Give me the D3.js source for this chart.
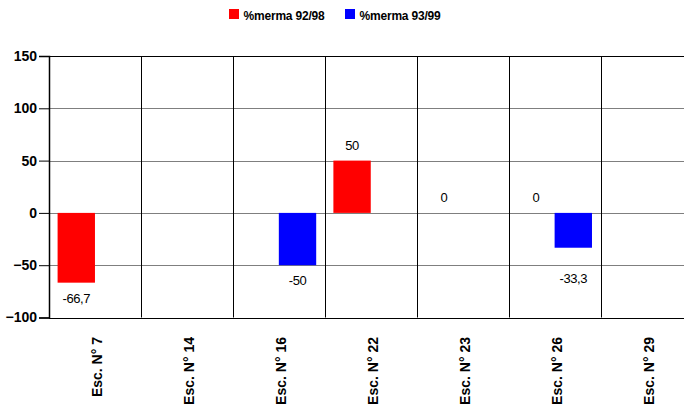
<!DOCTYPE html>
<html>
<head>
<meta charset="utf-8">
<script src="https://cdn.jsdelivr.net/npm/d3@7"></script>
<style>
  html, body { margin: 0; padding: 0; background: #fff; }
  svg { display: block; font-family: Arial, "Liberation Sans", sans-serif; }
</style>
</head>
<body>
<script>
// ---- data ----
const categories = ["Esc. N° 7", "Esc. N° 14", "Esc. N° 16", "Esc. N° 22", "Esc. N° 23", "Esc. N° 26", "Esc. N° 29"];
const seriesNames = ["%merma 92/98", "%merma 93/99"];
const merma9298 = [-66.7, null, null, 50, 0, 0, null];
const merma9399 = [null, null, -50, null, null, -33.3, null];
const yTicks = [-100, -50, 0, 50, 100, 150];

// ---- layout / style ----
const W = 684, H = 416;
const colors = ["#ff0000", "#0000ff"];
const plotLeft = 49, catStep = 91.93, plotTop = 56, plotBottom = 317.5;
// manual nudges for data labels (Excel-style placement), keyed "series-category"
const labelNudge = { "1-5": 15 };

const svg = d3.select("body").append("svg").attr("width", W).attr("height", H);

const x = d3.scaleBand().domain(categories)
  .range([plotLeft, plotLeft + catStep * categories.length]).paddingInner(0).paddingOuter(0);
const xs = d3.scaleBand().domain([0, 1]).range([0, x.bandwidth()]).paddingInner(0).paddingOuter(0.23);
const y = d3.scaleLinear().domain([-100, 150]).range([plotBottom, plotTop]);
const x0 = plotLeft, x1 = plotLeft + catStep * categories.length;

// horizontal grid lines
svg.append("g").selectAll("line").data(yTicks).join("line")
  .attr("x1", x0).attr("x2", x1)
  .attr("y1", d => Math.round(y(d)) + 0.5).attr("y2", d => Math.round(y(d)) + 0.5)
  .attr("stroke", d => (d === 150 || d === -100) ? "#000" : "#7f7f7f")
  .attr("stroke-width", 1);

// vertical category separators
const seps = categories.map((c, i) => x(c)).concat([x1]);
svg.append("g").selectAll("line").data(seps.slice(1)).join("line")
  .attr("x1", d => Math.round(d) + 0.5).attr("x2", d => Math.round(d) + 0.5)
  .attr("y1", plotTop).attr("y2", plotBottom)
  .attr("stroke", "#000").attr("stroke-width", 1);

// bars
const series = [merma9298, merma9399];
series.forEach((vals, si) => {
  const pts = vals.map((v, i) => ({ v, i })).filter(d => d.v !== null);
  svg.append("g").selectAll("rect").data(pts).join("rect")
    .attr("x", d => x(categories[d.i]) + xs(si))
    .attr("width", xs.bandwidth())
    .attr("y", d => y(Math.max(0, d.v)))
    .attr("height", d => Math.abs(y(d.v) - y(0)))
    .attr("fill", colors[si]);
  svg.append("g").selectAll("text").data(pts).join("text")
    .attr("x", d => x(categories[d.i]) + xs(si) + xs.bandwidth() / 2)
    .attr("y", d => d.v < 0 ? y(d.v) + 20 + (labelNudge[si + "-" + d.i] || 0) : y(d.v) - 11)
    .attr("text-anchor", "middle")
    .attr("font-size", 13)
    .attr("letter-spacing", -0.4)
    .attr("fill", "#000")
    .text(d => String(d.v).replace(".", ","));
});

// y axis
const yAxis = svg.append("g").attr("transform", `translate(${plotLeft},0)`)
  .call(d3.axisLeft(y).tickValues(yTicks).tickSize(10).tickPadding(2).tickFormat(d3.format("d")));
yAxis.select(".domain").attr("stroke", "#000").attr("stroke-width", 1.5);
yAxis.selectAll(".tick line").attr("stroke", "#000");
yAxis.selectAll(".tick text")
  .attr("font-size", 14).attr("font-weight", "bold").attr("fill", "#000")
  .attr("font-family", "Arial, 'Liberation Sans', sans-serif");

// x category labels (rotated)
svg.append("g").selectAll("text").data(categories).join("text")
  .attr("transform", d => `translate(${x(d) + x.bandwidth() / 2 + 2.5},337) rotate(-90)`)
  .attr("text-anchor", "end")
  .attr("dy", "0.35em")
  .attr("font-size", 14)
  .attr("font-weight", "bold")
  .attr("fill", "#000")
  .text(d => d);

// legend
const legend = svg.append("g");
const legendX = [229, 345];
seriesNames.forEach((name, i) => {
  legend.append("rect").attr("x", legendX[i]).attr("y", 9).attr("width", 10).attr("height", 10)
    .attr("fill", colors[i]);
  legend.append("text").attr("x", legendX[i] + 14.5).attr("y", 19.5)
    .attr("font-size", 12).attr("font-weight", "bold").attr("letter-spacing", -0.2)
    .attr("fill", "#000").text(name);
});
</script>
</body>
</html>
